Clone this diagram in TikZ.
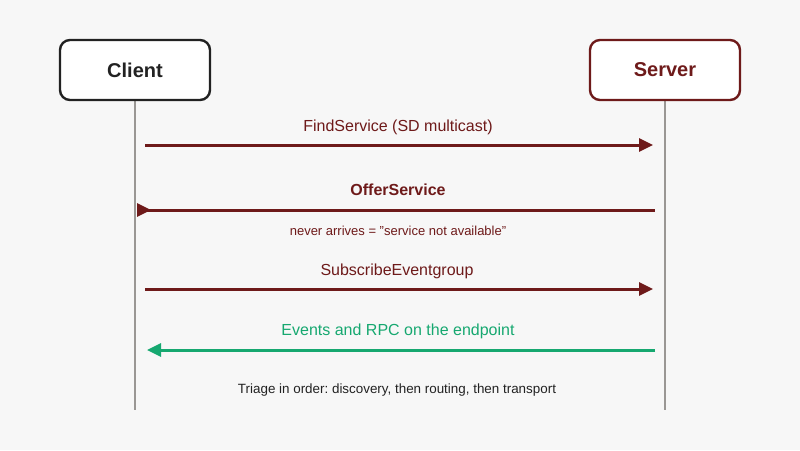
\documentclass[tikz,border=0pt]{standalone}
\usepackage{fontspec}
\setmainfont{Liberation Sans}
\usetikzlibrary{arrows.meta}
\frenchspacing
\definecolor{bg}{HTML}{F7F7F7}
\definecolor{dred}{HTML}{6E1A1A}
\definecolor{lgray}{HTML}{9A9794}
\definecolor{ink}{HTML}{222222}
\definecolor{grn}{HTML}{16A870}
\tikzset{
  actor/.style={draw, line width=2.4pt, rounded corners=10pt, fill=white,
    minimum width=150pt, minimum height=60pt, inner sep=0pt,
    font=\fontsize{20}{24}\selectfont\bfseries},
  lifeline/.style={lgray, line width=2pt},
  msg/.style={dred, line width=3pt, -{Triangle[length=14pt,width=13pt]}},
  msgback/.style={dred, line width=3pt, {Triangle[reversed,length=14pt,width=13pt]}-},
  msggreen/.style={grn, line width=3pt, -{Triangle[length=14pt,width=13pt]}},
  lbl/.style={font=\fontsize{16}{19}\selectfont, text=dred, inner sep=0pt},
  note/.style={font=\fontsize{13}{15}\selectfont, inner sep=0pt},
}
\begin{document}
\begin{tikzpicture}[x=1pt,y=-1pt]
\fill[bg] (0,0) rectangle (800,450);
\useasboundingbox (0,0) rectangle (800,450);
% lifelines
\coordinate (cbot) at (135,410);
\coordinate (sbot) at (665,410);
\draw[lifeline] (135,100) -- (cbot);
\draw[lifeline] (665,100) -- (sbot);
% actors
\node[actor, draw=ink, text=ink] (client) at (135,70) {Client};
\node[actor, draw=dred, text=dred] (server) at (665,70) {Server};
% message endpoints
\coordinate (a1s) at (145,145); \coordinate (a1e) at (653,145);
\coordinate (a2s) at (655,210); \coordinate (a2e) at (137,210);
\coordinate (a3s) at (145,289); \coordinate (a3e) at (653,289);
\coordinate (a4s) at (655,350); \coordinate (a4e) at (147,350);
\draw[msg] (a1s) -- (a1e);
\draw[msgback] (a2e) -- (a2s);
\draw[msg] (a3s) -- (a3e);
\draw[msggreen] (a4s) -- (a4e);
% labels
\node[lbl] (l1) at (398,127) {FindService (SD multicast)};
\node[lbl, font=\fontsize{16}{19}\selectfont\bfseries] (l2) at (398,190) {OfferService};
\node[note, text=dred] (n2) at (398,231) {never arrives = \char34 service not available\char34};
\node[lbl] (l3) at (397,271) {SubscribeEventgroup};
\node[lbl, text=grn] (l4) at (398,331) {Events and RPC on the endpoint};
\node[note, text=ink, font=\fontsize{13.4}{15}\selectfont] (n4) at (397,390) {Triage in order: discovery, then routing, then transport};
\end{tikzpicture}
\end{document}
